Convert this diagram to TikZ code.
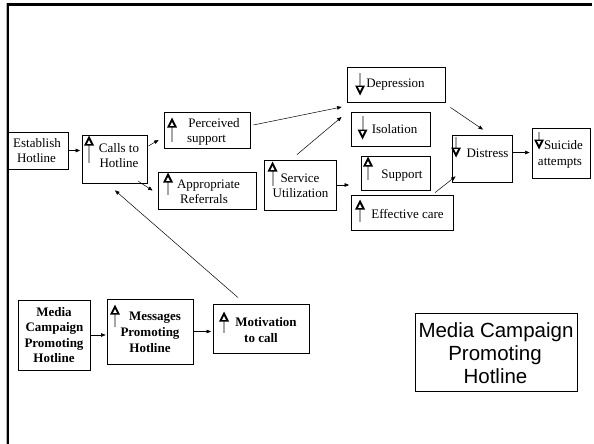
\documentclass[tikz,border=0pt]{standalone}
\usepackage{fontspec}
\setmainfont{Liberation Serif}
\newfontfamily\arialf{Liberation Sans}
\usetikzlibrary{arrows.meta}
\newcommand\UpGlyph[3]{%
  \draw[shaft] ({#1},{#2+8}) -- ({#1},{#2+#3});
  \fill[black] ({#1},{#2-0.5}) -- ({#1-5},{#2+9.5}) -- ({#1+5},{#2+9.5}) -- cycle;
  \fill[white] ({#1},{#2+4.2}) -- ({#1-1.9},{#2+7.8}) -- ({#1+1.9},{#2+7.8}) -- cycle;}
\newcommand\DownGlyph[3]{%
  \draw[shaft] ({#1},{#2}) -- ({#1},{#2+#3-8});
  \fill[black] ({#1},{#2+#3+0.5}) -- ({#1-5},{#2+#3-9.5}) -- ({#1+5},{#2+#3-9.5}) -- cycle;
  \fill[white] ({#1},{#2+#3-4.2}) -- ({#1-1.9},{#2+#3-7.8}) -- ({#1+1.9},{#2+#3-7.8}) -- cycle;}
\begin{document}
\begin{tikzpicture}[x=1pt,y=-1pt,
  box/.style={draw, line width=0.8pt, rectangle, inner sep=0pt},
  bbox/.style={draw, line width=0.9pt, rectangle, inner sep=0pt},
  txt/.style={inner sep=0pt, anchor=base, font=\fontsize{13}{15}\selectfont},
  btxt/.style={inner sep=0pt, anchor=base, font=\fontsize{13}{15}\selectfont\bfseries},
  stxt/.style={inner sep=0pt, anchor=base, font=\arialf\fontsize{20.5}{23}\selectfont},
  conn/.style={line width=0.5pt, -{Triangle[length=4.5pt,width=3.6pt]}},
  shaft/.style={line width=2pt, draw=gray!70},
]
\useasboundingbox (0,0) rectangle (594,444);
% frame
\draw[gray!60, line width=0.8pt] (6.2,444) -- (6.2,3.2);
\draw[line width=2.2pt] (8,444) -- (8,4.5) -- (592,4.5);

% boxes
\node[box, minimum width=60pt, minimum height=37pt] (establish) at (38.5,150.5) {};
\node[box, minimum width=65pt, minimum height=48pt] (calls) at (114.5,159) {};
\node[box, minimum width=86pt, minimum height=36pt] (perceived) at (207,130) {};
\node[box, minimum width=98pt, minimum height=37pt] (approp) at (207,190.5) {};
\node[box, minimum width=72pt, minimum height=50pt] (service) at (300,185) {};
\node[box, minimum width=98pt, minimum height=35pt] (depression) at (396,84.5) {};
\node[box, minimum width=79pt, minimum height=34pt] (isolation) at (390.5,129) {};
\node[box, minimum width=69pt, minimum height=34pt] (support) at (395.5,173) {};
\node[box, minimum width=102pt, minimum height=35pt] (effective) at (402,212.5) {};
\node[box, minimum width=60pt, minimum height=47pt] (distress) at (482,158.5) {};
\node[box, minimum width=58pt, minimum height=50pt] (suicide) at (561,153) {};
\node[bbox, minimum width=72pt, minimum height=70pt] (media) at (54,335) {};
\node[bbox, minimum width=86pt, minimum height=65pt] (messages) at (150,331.5) {};
\node[bbox, minimum width=96pt, minimum height=49pt] (motivation) at (261,328.5) {};
\node[box, minimum width=162pt, minimum height=78pt] (bigbox) at (496,352) {};

% texts
\node[txt] (t1) at (37,147) {Establish};
\node[txt] (t2) at (36.5,162) {Hotline};
\node[txt] (t3) at (119,152) {Calls to};
\node[txt] (t4) at (119,167) {Hotline};
\node[txt] (t5) at (214,127) {Perceived};
\node[txt] (t6) at (206.5,142) {support};
\node[txt] (t7) at (208.5,188) {Appropriate};
\node[txt] (t8) at (204,203) {Referrals};
\node[txt] (t9) at (300,182) {Service};
\node[txt] (t10) at (300.5,197) {Utilization};
\node[txt] (t11) at (395.5,88) {Depression};
\node[txt] (t12) at (394.5,133) {Isolation};
\node[txt] (t13) at (402,178) {Support};
\node[txt] (t14) at (407.5,218) {Effective care};
\node[txt] (t15) at (487.5,157) {Distress};
\node[txt] (t16) at (563.5,149) {Suicide};
\node[txt] (t17) at (560,165) {attempts};
\node[btxt] (t18) at (54,316) {Media};
\node[btxt] (t19) at (54.5,331.5) {Campaign};
\node[btxt] (t20) at (54,347) {Promoting};
\node[btxt] (t21) at (54,362.5) {Hotline};
\node[btxt] (t22) at (155,320) {Messages};
\node[btxt] (t23) at (150,336) {Promoting};
\node[btxt] (t24) at (150,352) {Hotline};
\node[btxt] (t25) at (266,326) {Motivation};
\node[btxt] (t26) at (261,342) {to call};
\node[stxt] (t27) at (496,337) {Media Campaign};
\node[stxt] (t28) at (495,360) {Promoting};
\node[stxt] (t29) at (495.5,383) {Hotline};

% glyphs
\UpGlyph{89}{136}{27}
\UpGlyph{172}{118}{24}
\UpGlyph{168}{173}{22}
\UpGlyph{272.5}{162}{24}
\DownGlyph{360}{73}{22}
\DownGlyph{362.5}{116}{23}
\UpGlyph{368}{157}{23}
\UpGlyph{360}{200}{22}
\DownGlyph{456}{137}{20}
\DownGlyph{539}{132}{17}
\UpGlyph{115}{305}{22}
\UpGlyph{224}{312}{21}

% connectors
\draw[conn, shorten >=1.5pt] (establish.east) -- (establish.east -| calls.west);
\draw[conn] ([shift={(1,-13)}]calls.east) -- ([shift={(-5,10)}]perceived.west);
\draw[conn] ([shift={(-9,-2)}]calls.south east) -- ([shift={(-5,0)}]approp.west);
\draw[conn] ([shift={(3,-5)}]perceived.east) -- ([shift={(-5,22.5)}]depression.west);
\draw[conn] ([shift={(-3,-5)}]service.north) -- ([shift={(-5,32.5)}]depression.west);
\draw[conn, shorten >=1.5pt] (service.east) -- (service.east -| effective.west);
\draw[conn] ([shift={(33,-2)}]effective.north) -- ([shift={(4,-6)}]distress.south west);
\draw[conn] ([shift={(5,5)}]depression.south east) -- ([shift={(1,-5)}]distress.north);
\draw[conn, shorten >=2pt] ([shift={(0,-6)}]distress.east) -- ([shift={(0,-6)}]distress.east -| suicide.west);
\draw[conn] ([shift={(-23,-6)}]motivation.north) -- ([shift={(0.5,7)}]calls.south);
\draw[conn, shorten >=1pt] (media.east) -- (media.east -| messages.west);
\draw[conn, shorten >=1.5pt] (messages.east) -- (messages.east -| motivation.west);
\end{tikzpicture}
\end{document}
